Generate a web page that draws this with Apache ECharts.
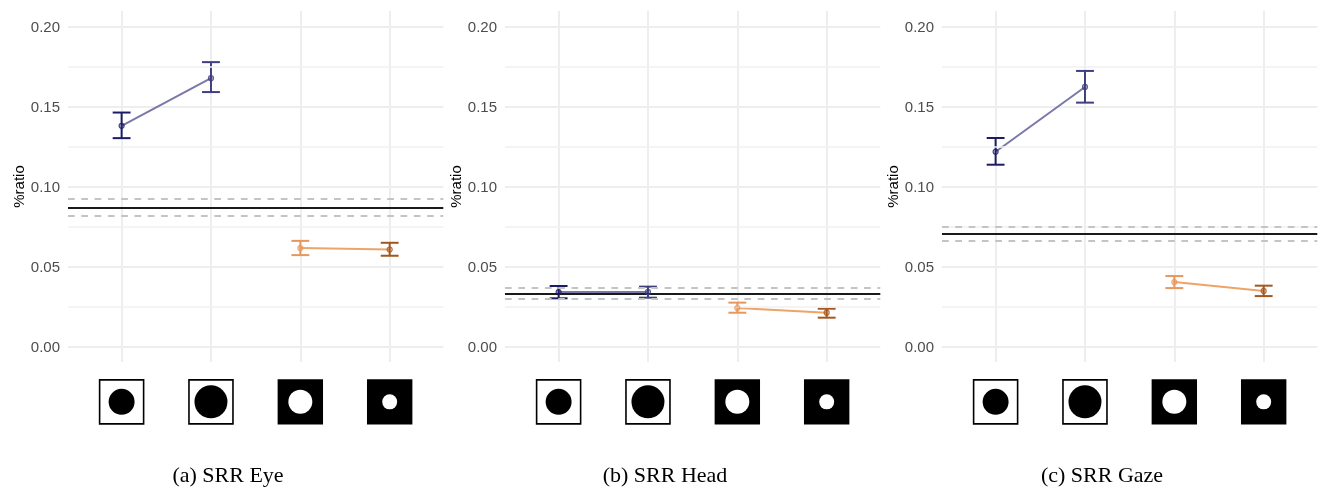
<!DOCTYPE html>
<html>
<head>
<meta charset="utf-8">
<script src="https://cdn.jsdelivr.net/npm/echarts@6/dist/echarts.min.js"></script>
<style>html,body{margin:0;padding:0;background:#fff}#c{width:1318px;height:487px}</style>
</head>
<body>
<div id="c"></div>
<script>
const panelTitles = ['(a) SRR Eye', '(b) SRR Head', '(c) SRR Gaze'];
const conditions = [1, 2, 3, 4];
const yTicks = [0, 0.05, 0.1, 0.15, 0.2];
const yMinorTicks = [0.025, 0.075, 0.125, 0.175];
const means = [
  [0.1378, 0.1676, 0.0614, 0.0605],
  [0.0339, 0.0340, 0.0239, 0.0210],
  [0.1216, 0.1621, 0.0402, 0.0346]
];
const uppers = [
  [0.1461, 0.1776, 0.0659, 0.0647],
  [0.0377, 0.0373, 0.0273, 0.0235],
  [0.1302, 0.1721, 0.0439, 0.0379]
];
const lowers = [
  [0.1301, 0.1589, 0.0570, 0.0566],
  [0.0300, 0.0304, 0.0210, 0.0179],
  [0.1135, 0.1523, 0.0364, 0.0314]
];
const baselines = [0.0866, 0.0331, 0.0704];
const baseUppers = [0.0920, 0.0364, 0.0750];
const baseLowers = [0.0816, 0.0298, 0.0660];
const conditionColors = ['#1c1c66', '#3f3f80', '#e8975c', '#a3571f'];
const pointFills = ['rgba(28,28,102,0.25)', 'rgba(63,63,128,0.4)', 'rgba(232,151,92,0.4)', 'rgba(163,87,31,0.25)'];
const pairColors = ['#7a78a8', '#eda468'];
const iconFill = ['#fff', '#fff', '#000', '#000'];
const iconDot = ['#000', '#000', '#fff', '#fff'];
const iconDiameters = [26, 33, 24, 15];
const iconLevel = -0.0347;

const GRIDLINE = '#eeeeee';
const option = { animation: false, backgroundColor: '#fff', grid: [], xAxis: [], yAxis: [], series: [], title: [] };

panelTitles.forEach((title, p) => {
  const left = 68 + 437 * p;
  option.grid.push({ left, top: 11, width: 375.3, height: 351 });
  option.title.push({
    text: title, left: left + 160, top: 465, textAlign: 'center', padding: 0,
    textStyle: { fontFamily: '"Liberation Serif"', fontSize: 22, fontWeight: 'normal', color: '#000' }
  });
  option.xAxis.push({
    gridIndex: p, type: 'value', min: 0.4, max: 4.6,
    axisLine: { show: false }, axisLabel: { show: false },
    axisTick: { show: false, customValues: conditions },
    splitLine: { show: true, lineStyle: { color: GRIDLINE, width: 2 } }
  });
  option.yAxis.push({
    gridIndex: p, type: 'value', min: -0.0098, max: 0.20956,
    name: '%ratio', nameLocation: 'middle', nameGap: 41, nameRotate: 90,
    nameTextStyle: { fontFamily: '"Liberation Sans"', fontSize: 15, color: '#000' },
    axisLine: { show: false },
    axisTick: { show: false, customValues: yTicks },
    axisLabel: {
      customValues: yTicks, margin: 8,
      formatter: v => '{t|' + v.toFixed(2) + '}',
      rich: { t: { fontFamily: '"Liberation Sans"', fontSize: 15, color: '#4d4d4d', padding: [3, 0, 0, 0] } }
    },
    splitLine: { show: true, lineStyle: { color: GRIDLINE, width: 2 } }
  });
  // reference lines and minor gridlines
  option.series.push({
    type: 'line', xAxisIndex: p, yAxisIndex: p, data: [], silent: true, z: 1,
    markLine: {
      silent: true, symbol: 'none', label: { show: false }, animation: false, precision: 4,
      data: yMinorTicks.map(v => ({ yAxis: v, lineStyle: { color: '#f1f1f1', width: 1.5, type: 'solid' } }))
    }
  });
  option.series.push({
    type: 'line', xAxisIndex: p, yAxisIndex: p, data: [], silent: true, z: 2,
    markLine: {
      silent: true, symbol: 'none', label: { show: false }, animation: false, precision: 4,
      data: [
        { yAxis: baseUppers[p], lineStyle: { color: '#c4c4c4', width: 2, type: [6.7, 6.6] } },
        { yAxis: baseLowers[p], lineStyle: { color: '#c4c4c4', width: 2, type: [6.7, 6.6] } },
        { yAxis: baselines[p], lineStyle: { color: '#1a1a1a', width: 2, type: 'solid' } }
      ]
    }
  });
  // connecting lines
  [[0, 1], [2, 3]].forEach((pair, k) => {
    option.series.push({
      type: 'line', xAxisIndex: p, yAxisIndex: p, z: 3, silent: true, symbol: 'none',
      lineStyle: { color: pairColors[k], width: 2 },
      data: pair.map(i => [conditions[i], means[p][i]])
    });
  });
  // error bars
  option.series.push({
    type: 'custom', xAxisIndex: p, yAxisIndex: p, z: 4, silent: true,
    encode: { x: 0, y: [1, 2] },
    data: conditions.map((c, i) => [c, lowers[p][i], uppers[p][i], i]),
    renderItem: (params, api) => {
      const x = api.value(0), lo = api.value(1), hi = api.value(2), col = conditionColors[api.value(3)];
      const a = api.coord([x, lo]), b = api.coord([x, hi]);
      const l = api.coord([x - 0.1, lo])[0], r = api.coord([x + 0.1, lo])[0];
      const style = { stroke: col, lineWidth: 2, fill: null };
      return { type: 'group', children: [
        { type: 'line', shape: { x1: a[0], y1: a[1], x2: b[0], y2: b[1] }, style },
        { type: 'line', shape: { x1: l, y1: a[1], x2: r, y2: a[1] }, style },
        { type: 'line', shape: { x1: l, y1: b[1], x2: r, y2: b[1] }, style }
      ] };
    }
  });
  // mean points
  option.series.push({
    type: 'scatter', xAxisIndex: p, yAxisIndex: p, z: 5, silent: true, symbolSize: 5,
    data: conditions.map((c, i) => ({
      value: [c, means[p][i]],
      itemStyle: { color: pointFills[i], borderColor: conditionColors[i], borderWidth: 1.2 }
    }))
  });
  // stimulus icons under each condition
  option.series.push({
    type: 'custom', xAxisIndex: p, yAxisIndex: p, z: 6, silent: true, clip: false,
    encode: { x: 0, y: 1 },
    data: conditions.map((c, i) => [c, iconLevel, i]),
    renderItem: (params, api) => {
      const i = api.value(2), q = api.coord([api.value(0), api.value(1)]);
      const s = i < 2 ? 44 : 45.4;
      return { type: 'group', children: [
        { type: 'rect', shape: { x: q[0] - s / 2, y: q[1] - s / 2, width: s, height: s },
          style: { fill: iconFill[i], stroke: '#000', lineWidth: i < 2 ? 1.6 : 0 } },
        { type: 'circle', shape: { cx: q[0], cy: q[1], r: iconDiameters[i] / 2 },
          style: { fill: iconDot[i] } }
      ] };
    }
  });
});

const chart = echarts.init(document.getElementById('c'), null, { renderer: 'canvas' });
chart.setOption(option);
</script>
</body>
</html>
